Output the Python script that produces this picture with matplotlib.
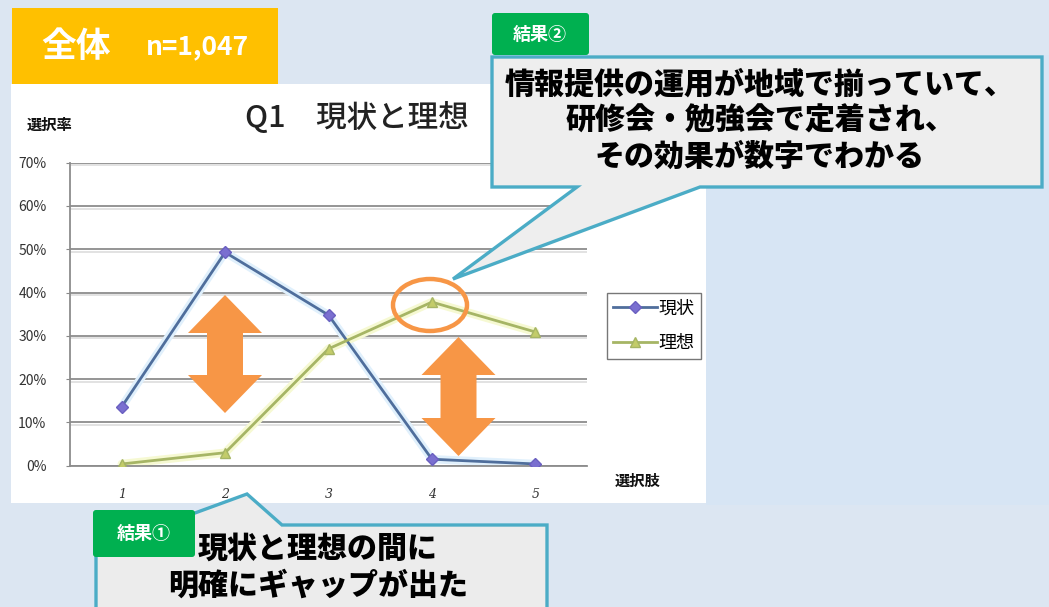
import matplotlib.pyplot as plt
import matplotlib.patches as mpatches
import numpy as np

plt.rcParams['font.family'] = ['Noto Sans CJK JP', 'DejaVu Sans']

# data (percent)
choices = [1, 2, 3, 4, 5]
genjo = [13.6, 49.3, 34.8, 1.5, 0.4]
riso = [0.4, 3.0, 27.0, 37.8, 30.9]
yticks = [0, 10, 20, 30, 40, 50, 60, 70]
labels = ['現状', '理想']

W, H = 1049, 607
BG = '#dce6f2'
ORANGE = '#f79646'
GREEN = '#00b050'
CALLOUT_EDGE = '#4bacc6'

fig = plt.figure(figsize=(W / 100, H / 100), dpi=100)
fig.patch.set_facecolor(BG)

# background layer (pixel coords)
bg = fig.add_axes([0, 0, 1, 1], zorder=0)
bg.set_xlim(0, W)
bg.set_ylim(H, 0)
bg.axis('off')
bg.add_patch(mpatches.Rectangle((11, 84), 695, 419, facecolor='white', edgecolor='none'))
bg.add_patch(mpatches.Rectangle((706, 55), 343, 450, facecolor='#d7e5f4', edgecolor='none'))
bg.add_patch(mpatches.Rectangle((12, 8), 266, 76, facecolor='#ffc000', edgecolor='none'))
bg.text(76, 46, '全体', color='white', fontsize=25, fontweight='bold', ha='center', va='center')
bg.text(197, 47, 'n=1,047', color='white', fontsize=19, fontweight='bold', ha='center', va='center')
bg.text(357, 118, 'Q1　現状と理想', color='#222222', fontsize=22, fontweight='medium',
        ha='center', va='center')
bg.text(50, 125, '選択率', color='#111111', fontsize=11, fontweight='bold', ha='center', va='center')
bg.text(638, 481, '選択肢', color='#111111', fontsize=11, fontweight='bold', ha='center', va='center')

# chart
ax = fig.add_axes([70 / W, 1 - 465.7 / H, 517 / W, 303 / H], zorder=1)
ax.set_facecolor('none')
ax.set_xlim(0.5, 5.5)
ax.set_ylim(0, 70)
ax.set_yticks(yticks)
ax.set_yticklabels([f'{v}%' for v in yticks], fontsize=10, color='#333333')
ax.set_xticks(choices)
ax.set_xticklabels([str(c) for c in choices], fontsize=9, color='#333333',
                   family=['DejaVu Serif'], style='italic')
ax.tick_params(axis='y', length=3, pad=14, color='#888888')
ax.tick_params(axis='x', length=0, pad=16)
for v in yticks:
    ax.axhline(v - 0.6, color='#dddddd', lw=1.2, zorder=1)
    ax.axhline(v, color='#8c8c8c', lw=1.3, zorder=1)
for s in ['top', 'right']:
    ax.spines[s].set_visible(False)
ax.spines['left'].set_color('#8c8c8c')
ax.spines['left'].set_linewidth(1.3)
ax.spines['bottom'].set_color('#8c8c8c')
ax.spines['bottom'].set_linewidth(1.3)

# soft halo like the blurry original
ax.plot(choices, genjo, color='#e0f0fc', lw=6, zorder=2, solid_capstyle='round')
ax.plot(choices, riso, color='#f6f9d2', lw=6, zorder=2, solid_capstyle='round')
ax.plot(choices, genjo, color='#4f6e9c', lw=2, marker='D', markersize=6,
        markerfacecolor='#7a6fd0', markeredgecolor='#6a5fc0', label=labels[0], zorder=3)
ax.plot(choices, riso, color='#a6b565', lw=2, marker='^', markersize=7,
        markerfacecolor='#c3cc6a', markeredgecolor='#a6b565', label=labels[1], zorder=3)

leg = ax.legend(loc='upper left', bbox_to_anchor=(607 / W, 1 - 293 / H),
                bbox_transform=fig.transFigure, fontsize=13, frameon=True,
                fancybox=False, handlelength=2.4, handletextpad=0.1,
                borderpad=0.35, labelspacing=0.95, borderaxespad=0)
leg.get_frame().set_edgecolor('#555555')
leg.get_frame().set_linewidth(1)

# overlay layer (pixel coords)
ov = fig.add_axes([0, 0, 1, 1], zorder=3)
ov.set_facecolor('none')
ov.set_xlim(0, W)
ov.set_ylim(H, 0)
ov.axis('off')


def double_arrow(cx, top, bottom, head_w=37, head_l=38, shaft_w=18):
    pts = [(cx, top), (cx + head_w, top + head_l), (cx + shaft_w, top + head_l),
           (cx + shaft_w, bottom - head_l), (cx + head_w, bottom - head_l), (cx, bottom),
           (cx - head_w, bottom - head_l), (cx - shaft_w, bottom - head_l),
           (cx - shaft_w, top + head_l), (cx - head_w, top + head_l)]
    ov.add_patch(mpatches.Polygon(pts, closed=True, facecolor=ORANGE, edgecolor='none'))


double_arrow(225, 295, 413)
double_arrow(458.5, 337, 456)
ov.add_patch(mpatches.Ellipse((430, 305), 74, 52, facecolor='none', edgecolor=ORANGE, lw=3.2))

# callout 2
c2 = [(492, 57), (1042, 57), (1042, 187), (700, 187), (453, 279), (577, 187), (492, 187)]
ov.add_patch(mpatches.Polygon(c2, closed=True, facecolor='#eeeeee', edgecolor=CALLOUT_EDGE, lw=2.4))
ov.add_patch(mpatches.FancyBboxPatch((492, 13), 97, 42, boxstyle='round,pad=0,rounding_size=3',
                                     facecolor=GREEN, edgecolor='none'))
ov.text(540, 34, '結果②', color='white', fontsize=13, fontweight='bold', ha='center', va='center')
for i, line in enumerate(['情報提供の運用が地域で揃っていて、', '研修会・勉強会で定着され、', 'その効果が数字でわかる']):
    ov.text(760, 84 + i * 36, line, color='black', fontsize=21.6, fontweight='heavy',
            ha='center', va='center')

# callout 1
c1 = [(96, 525), (162, 525), (247, 494), (282, 525), (547, 525), (547, 625), (96, 625)]
ov.add_patch(mpatches.Polygon(c1, closed=True, facecolor='#ececec', edgecolor=CALLOUT_EDGE, lw=2.4,
                              clip_on=False))
ov.add_patch(mpatches.FancyBboxPatch((93, 510), 102, 47, boxstyle='round,pad=0,rounding_size=3',
                                     facecolor=GREEN, edgecolor='none'))
ov.text(144, 533, '結果①', color='white', fontsize=13, fontweight='bold', ha='center', va='center')
ov.text(318, 548, '現状と理想の間に', color='black', fontsize=21.6, fontweight='heavy',
        ha='center', va='center')
ov.text(318, 585, '明確にギャップが出た', color='black', fontsize=21.6, fontweight='heavy',
        ha='center', va='center')

fig.savefig('out.png', dpi=100, facecolor=fig.get_facecolor())
